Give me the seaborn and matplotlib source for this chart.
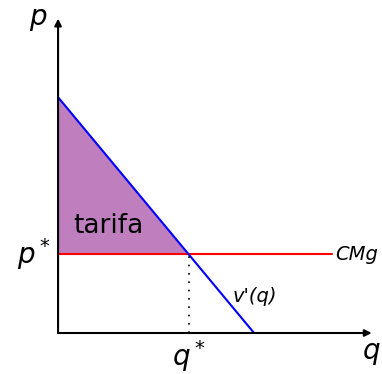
import numpy as np
import pandas as pd
import matplotlib
matplotlib.use('Agg')
import matplotlib.pyplot as plt
import seaborn as sns

# demand (marginal valuation) and marginal cost
demand_q = [0, 5]
demand_p = [6, 0]
cmg_q = [0, 7]
cmg_p = [2, 2]
axis_max = 8

p_star = cmg_p[0]
q_star = demand_q[1] * (1 - p_star / demand_p[0])

sns.set_style('white')
plt.rcParams['text.color'] = 'black'
fig = plt.figure(figsize=(3.82, 3.74), dpi=100)
ax = fig.add_axes([0.152, 0.1096, 0.821, 0.8406])

# tariff triangle
ax.fill([0, 0, q_star], [demand_p[0], p_star, p_star], color='#bf7fbf', lw=0)

df_d = pd.DataFrame({'q': demand_q, 'p': demand_p})
df_c = pd.DataFrame({'q': cmg_q, 'p': cmg_p})
sns.lineplot(data=df_c, x='q', y='p', color='red', lw=1.5, ax=ax)
sns.lineplot(data=df_d, x='q', y='p', color='blue', lw=1.5, ax=ax)
ax.plot([q_star, q_star], [0, p_star], color='black', lw=1.2, ls=(0, (1, 4)))

# axes with arrows
arrow = dict(arrowstyle='-|>', color='black', lw=1.5, mutation_scale=10, shrinkA=0, shrinkB=0)
ax.annotate('', xy=(axis_max, 0), xytext=(0, 0), arrowprops=arrow, annotation_clip=False)
ax.annotate('', xy=(0, axis_max), xytext=(0, 0), arrowprops=arrow, annotation_clip=False)

ax.set_xlim(0, axis_max)
ax.set_ylim(0, axis_max)
ax.axis('off')

ax.text(-0.5, 8.0, '$p$', fontsize=20, ha='center', va='center')
ax.text(8.0, -0.52, '$q$', fontsize=20, ha='center', va='center')
ax.text(-0.62, p_star, '$p^*$', fontsize=20, ha='center', va='center')
ax.text(q_star, -0.58, '$q^*$', fontsize=20, ha='center', va='center')
ax.text(0.38, 2.73, 'tarifa', fontsize=19, ha='left', va='center')
ax.text(7.07, p_star, 'CMg', fontsize=14, style='italic', ha='left', va='center')
ax.text(4.45, 0.92, "v'(q)", fontsize=14, style='italic', ha='left', va='center')

ax.set_xlabel('')
ax.set_ylabel('')
fig.savefig('out.png', dpi=100)
plt.close(fig)
